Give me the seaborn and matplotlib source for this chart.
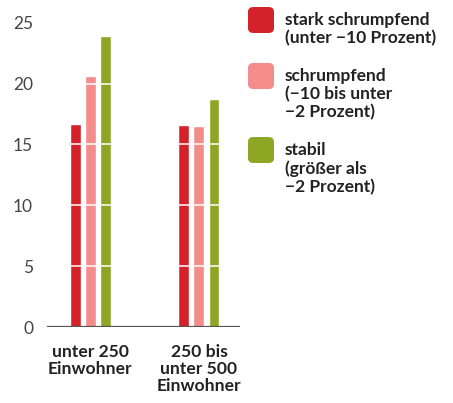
import pandas as pd
import seaborn as sns
import matplotlib.pyplot as plt
from matplotlib.patches import FancyBboxPatch

# --------------------- data --------------------- #
groups = ['unter 250\nEinwohner', '250 bis\nunter 500\nEinwohner']
series = ['stark schrumpfend\n(unter \u221210 Prozent)',
          'schrumpfend\n(\u221210 bis unter\n\u22122 Prozent)',
          'stabil\n(größer als\n\u22122 Prozent)']
stark = [16.7, 16.6]
schrumpf = [20.6, 16.5]
stabil = [23.9, 18.7]
colors = ['#d4222b', '#f38c8a', '#8ea623']

df = pd.DataFrame({
    'gruppe': groups * 3,
    'typ': [series[0]] * 2 + [series[1]] * 2 + [series[2]] * 2,
    'wert': stark + schrumpf + stabil,
})

# --------------------- plot --------------------- #
sns.set_style('white')
plt.rcParams['font.family'] = ['Lato', 'DejaVu Sans']

fig = plt.figure(figsize=(4.53, 4.03), dpi=100)
ax = fig.add_axes([47 / 453, 1 - 327 / 403, (240 - 47) / 453, (327 - 22.7) / 403])

sns.barplot(data=df, x='gruppe', y='wert', hue='typ', palette=colors,
            width=0.415, gap=0.27, legend=False, ax=ax, saturation=1)

ax.set_ylim(0, 25)
ax.set_xlim(-0.40, 1.378)
ax.set_yticks([0, 5, 10, 15, 20, 25])
ax.set_xlabel('')
ax.set_ylabel('')

# white grid lines over the bars
ax.set_axisbelow(False)
ax.yaxis.grid(True, color='white', linewidth=1.1)
ax.xaxis.grid(False)
for s in ['top', 'right', 'left', 'bottom']:
    ax.spines[s].set_visible(False)
ax.axhline(0, color='#555555', linewidth=1.6, zorder=5)

ax.tick_params(axis='y', length=0, pad=10, labelsize=12.5, labelcolor='#444444')
ax.tick_params(axis='x', length=0, pad=12)
for t in ax.get_xticklabels():
    t.set_fontsize(12.6)
    t.set_fontweight('bold')
    t.set_color('#222222')
    t.set_linespacing(1.1)

# legend, drawn by hand to get rounded swatches and top alignment
tops = [7, 63, 137]
for lab, col, top in zip(series, colors, tops):
    fig.patches.append(FancyBboxPatch(
        (248 / 453, 1 - (top + 26) / 403), 26 / 453, 26 / 403,
        boxstyle='round,pad=0,rounding_size=0.012', transform=fig.transFigure,
        facecolor=col, edgecolor='none'))
    fig.text(285 / 453, 1 - (top + 5) / 403, lab, ha='left', va='top',
             fontsize=12.5, fontweight='bold', color='#222222', linespacing=1.15)

fig.savefig('out.png', dpi=100)
